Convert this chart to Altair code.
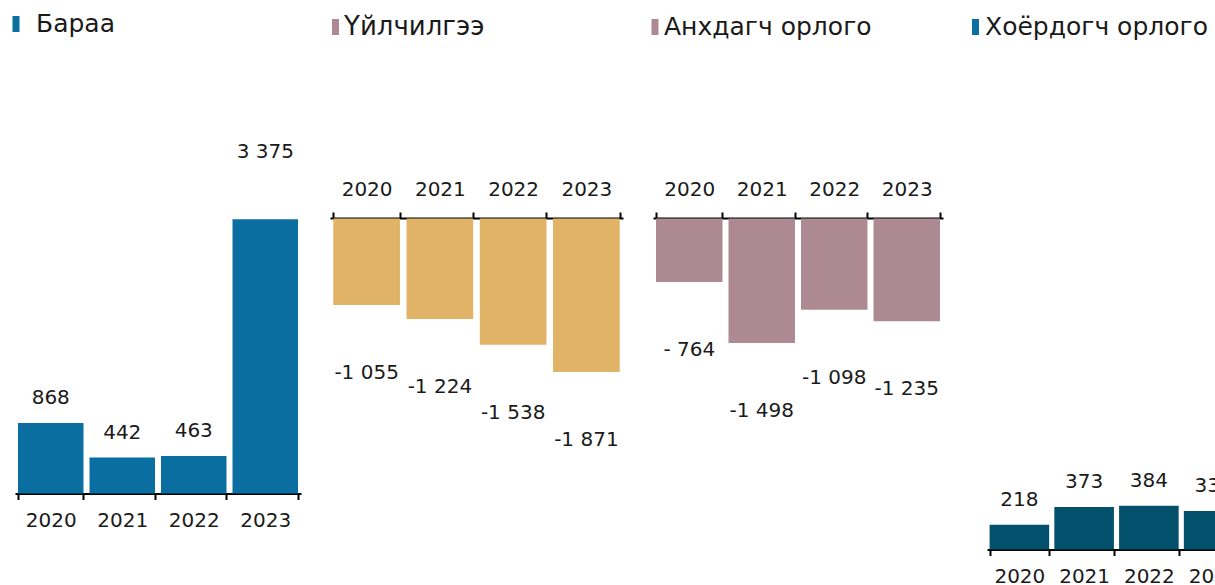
import altair as alt
import pandas as pd

# ---- data ----
years = ["2020", "2021", "2022", "2023"]
panel_titles = ["Бараа", "Үйлчилгээ", "Анхдагч орлого", "Хоёрдогч орлого"]

goods_values = [868, 442, 463, 3375]
goods_labels = ["868", "442", "463", "3 375"]

services_values = [-1055, -1224, -1538, -1871]
services_labels = ["-1 055", "-1 224", "-1 538", "-1 871"]

primary_values = [-764, -1498, -1098, -1235]
primary_labels = ["- 764", "-1 498", "-1 098", "-1 235"]

secondary_values = [218, 373, 384, 338]
secondary_labels = ["218", "373", "384", "338"]

# ---- style ----
FONT = "DejaVu Sans"
TXT = "#1a1a1a"
C_GOODS = "#0a6fa0"
C_SERV = "#e0b366"
C_PRIM = "#ad8a93"
C_SEC = "#03506c"


def panel(values, labels, color, x_range, pad, y_domain, y_range,
          orient, offset, dy, label_pad, big_dy=None, big_threshold=None):
    df = pd.DataFrame({"year": years, "value": values, "label": labels})
    x = alt.X(
        "year:N", sort=years,
        scale=alt.Scale(range=x_range, paddingInner=pad, paddingOuter=pad / 2),
        axis=alt.Axis(orient=orient, offset=offset, title=None, labelAngle=0,
                      tickBand="extent", domainColor="#000", domainWidth=2,
                      tickColor="#000", tickWidth=2, tickSize=6,
                      labelFont=FONT, labelFontSize=20, labelColor=TXT,
                      labelPadding=label_pad, grid=False),
    )
    y = alt.Y("value:Q",
              scale=alt.Scale(domain=y_domain, range=y_range, nice=False, zero=True),
              axis=None)
    base = alt.Chart(df)
    bars = base.mark_bar(color=color).encode(x=x, y=y)
    layers = [bars]
    if big_threshold is None:
        layers.append(base.mark_text(font=FONT, fontSize=20, color=TXT, dy=dy,
                                     baseline="middle")
                      .encode(x=alt.X("year:N", sort=years), y="value:Q", text="label:N"))
    else:
        layers.append(base.transform_filter(alt.datum.value < big_threshold)
                      .mark_text(font=FONT, fontSize=20, color=TXT, dy=dy,
                                 baseline="middle")
                      .encode(x=alt.X("year:N", sort=years), y="value:Q", text="label:N"))
        layers.append(base.transform_filter(alt.datum.value >= big_threshold)
                      .mark_text(font=FONT, fontSize=20, color=TXT, dy=big_dy,
                                 baseline="middle")
                      .encode(x=alt.X("year:N", sort=years), y="value:Q", text="label:N"))
    return alt.layer(*layers)


goods = panel(goods_values, goods_labels, C_GOODS, [15, 301], 0.084,
              [0, 4000], [493.5, 168.5], "bottom", -91.5, -25, 11,
              big_dy=-67, big_threshold=3000)
services = panel(services_values, services_labels, C_SERV, [330, 623], 0.09,
                 [-2000, 0], [382.7, 218.5], "top", -218, 68, 13)
primary = panel(primary_values, primary_labels, C_PRIM, [653, 943], 0.083,
                [-2000, 0], [384.7, 218.5], "top", -218, 68, 13)
secondary = panel(secondary_values, secondary_labels, C_SEC, [987, 1246], 0.08,
                  [0, 400], [549.5, 503.9], "bottom", -35.5, -25, 11)


def header(title, color, sq_x, text_x, base_y, size, font=FONT):
    d = pd.DataFrame({"t": [title]})
    sq = alt.Chart(d).mark_rect(color=color).encode(
        x=alt.value(sq_x), x2=alt.value(sq_x + 7),
        y=alt.value(base_y - 16), y2=alt.value(base_y))
    tx = alt.Chart(d).mark_text(font=font, fontSize=size, color=TXT, align="left",
                                baseline="alphabetic").encode(
        x=alt.value(text_x), y=alt.value(base_y), text="t:N")
    return [sq, tx]


headers = []
headers += header(panel_titles[0], C_GOODS, 12.5, 36, 32, 25)
headers += header(panel_titles[1], C_PRIM, 332, 344, 35, 26)
headers += header(panel_titles[2], C_PRIM, 651.5, 664, 35, 25)
headers += header(panel_titles[3], C_GOODS, 972, 985, 35, 25)

chart = (
    alt.layer(goods, services, primary, secondary, *headers)
    .resolve_scale(x="independent", y="independent")
    .properties(width=1215, height=585, padding=0,
                autosize=alt.AutoSizeParams(type="none"))
    .configure_view(stroke=None)
)

chart.save("out.html", embed_options={"renderer": "svg", "actions": False})
